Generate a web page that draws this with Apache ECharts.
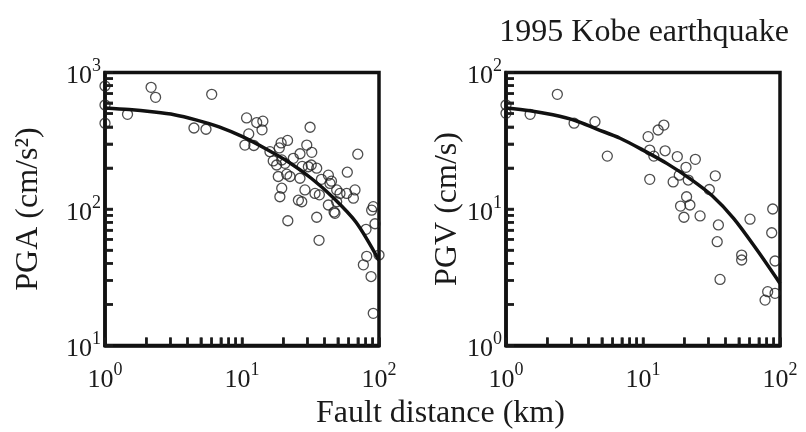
<!DOCTYPE html>
<html><head><meta charset="utf-8">
<script src="https://cdn.jsdelivr.net/npm/echarts@6/dist/echarts.min.js"></script>
<style>html,body{margin:0;padding:0;background:#fff}#c{width:806px;height:432px;background:#fff}</style>
</head><body><div id="c"></div>
<script>
// ---- data ----
const xTickLabels = [1, 10, 100];
const pgaTickLabels = [10, 100, 1000];
const pgvTickLabels = [1, 10, 100];

const pgaDist = [1.0, 1.0, 1.0, 1.46, 2.17, 2.34, 4.46, 5.46, 6.01,
  10.8, 11.2, 10.5, 12.2, 12.8, 14.2, 14.0, 31.4, 70,
  19.3, 21.5, 18.7, 16, 29.7, 32.3, 26.5, 23.7, 16.9, 17.9, 20.6, 19.5,
  30.5, 35.1, 27.5, 32, 58.7, 42.7, 18.4, 22.4, 26.5, 21.2, 38, 45,
  19.5, 28.8, 34.1, 43.9, 49.1, 51.9, 58.1, 66.8, 18.9, 25.8, 27.3, 65, 36.7, 49.1,
  42.7, 47.7, 90.8, 21.6, 35.1, 36.5, 47,
  88.4, 93.5, 80.4, 81.3, 76.9, 87.5, 90.8, 100];
const pgaVal = [796, 578, 425, 494, 779, 658, 392, 384, 692,
  465, 355, 294, 292, 430, 440, 380, 397, 252,
  305, 318, 280, 263, 294, 260, 254, 235, 225, 210, 216, 229,
  204, 199, 205, 210, 186, 177, 173, 173, 168, 180, 165, 160,
  142, 138, 130, 154, 138, 130, 130, 138, 123, 116, 113, 120, 127, 113,
  107, 93, 104, 82, 87, 59, 95,
  98, 78, 71, 45, 39, 32, 17.2, 46];

const pgvDist = [1.0, 1.0, 1.5, 2.37, 3.14, 4.46, 5.49,
  10.9, 12.9, 14.2, 11.2, 12.0, 14.5, 11.2,
  17.8, 20.6, 24.1, 18.4, 16.6, 21.4,
  20.8, 22.0, 18.8, 19.9, 26.1,
  33.7, 30.5, 35.5, 34.8, 36.5, 60.4, 52.5, 52.5,
  88.5, 87, 92, 77.8, 81.3, 92];
const pgvVal = [57.8, 50.2, 49.4, 69.2, 42.5, 43.6, 24.4,
  33.9, 37.9, 41.2, 27.0, 24.4, 26.7, 16.5,
  24.2, 20.2, 23.1, 17.7, 15.8, 16.3,
  12.3, 10.7, 10.5, 8.7, 8.9,
  17.5, 13.9, 7.64, 5.76, 3.05, 8.42, 4.60, 4.23,
  10.0, 6.70, 4.16, 2.15, 2.48, 2.41];

const curveDist = [1, 1.5, 2.2, 3.2, 4.6, 6.8, 10, 15, 22, 32, 46, 68, 100];
const pgaCurve  = [550, 535, 515, 490, 450, 400, 340, 275, 220, 168, 122, 80, 42];
const pgvCurve  = [55, 52.5, 49, 44.5, 38.5, 33, 27, 21.5, 16.7, 12.5, 8.5, 5.0, 2.85];

// ---- helpers ----
const zip = (a, b) => a.map((v, i) => [v, b[i]]);
function decadeTicks(lo, hi) {
  const out = [];
  for (let d = lo; d < hi; d *= 10) for (let k = 1; k <= 9; k++) out.push(d * k);
  out.push(hi);
  return out;
}
const FONT = 'Liberation Serif';
const TXT = '#1a1a1a';
const TICK_LEN = 8;
const labelFmt = v => '{b|10}{s|' + Math.round(Math.log10(v)) + '}';
const richLab = {
  b: { fontFamily: FONT, fontSize: 26, color: TXT, padding: [8, 0, 0, 0] },
  s: { fontFamily: FONT, fontSize: 18, color: TXT, padding: [0, 0, 12, 0] }
};
const axLine = { show: true, lineStyle: { color: '#111', width: 3.5 } };
const axTick = vals => ({ show: true, inside: true, length: TICK_LEN, customValues: vals,
  lineStyle: { color: TXT, width: 2.5 } });
function xAxisCfg(gi) {
  return {
    type: 'log', min: xTickLabels[0], max: xTickLabels[xTickLabels.length - 1], gridIndex: gi,
    axisLine: axLine, axisTick: axTick(decadeTicks(1, 100)),
    axisLabel: { formatter: labelFmt, rich: richLab, margin: 14 },
    splitLine: { show: false }
  };
}
function yAxisCfg(gi, labels, name, gap) {
  const lo = labels[0], hi = labels[labels.length - 1];
  return {
    type: 'log', min: lo, max: hi, gridIndex: gi,
    name: name, nameLocation: 'middle', nameRotate: 90, nameGap: gap,
    nameTextStyle: { fontFamily: FONT, fontSize: 32, color: TXT },
    axisLine: axLine, axisTick: axTick(decadeTicks(lo, hi)),
    axisLabel: { formatter: labelFmt, rich: richLab, margin: 4 },
    splitLine: { show: false }
  };
}
// inward tick marks drawn as thin rect symbols through the axes' own scales
function tickSeries(gi, horizontal, pairs) {
  return {
    type: 'scatter', xAxisIndex: gi, yAxisIndex: gi,
    data: pairs, symbol: 'rect',
    symbolSize: horizontal ? [2.5, TICK_LEN] : [TICK_LEN, 2.5],
    symbolOffset: horizontal ? [0, -TICK_LEN / 2] : [TICK_LEN / 2, 0],
    itemStyle: { color: TXT }
  };
}
const scatterStyle = { color: 'rgba(0,0,0,0)', borderColor: '#222', borderWidth: 1.3 };

const chart = echarts.init(document.getElementById('c'));
try {
  chart.setOption({
    animation: false,
    title: [
      { text: '1995 Kobe earthquake', right: 12, top: 12,
        textStyle: { fontFamily: FONT, fontSize: 32, fontWeight: 'normal', color: TXT } },
      { text: 'Fault distance (km)', left: 311, top: 393,
        textStyle: { fontFamily: FONT, fontSize: 32, fontWeight: 'normal', color: TXT } }
    ],
    grid: [
      { left: 105, top: 72.5, width: 274, height: 273, show: true, borderColor: '#111', borderWidth: 3.5 },
      { left: 506, top: 72.5, width: 274, height: 273, show: true, borderColor: '#111', borderWidth: 3.5 }
    ],
    xAxis: [xAxisCfg(0), xAxisCfg(1)],
    yAxis: [
      yAxisCfg(0, pgaTickLabels, 'PGA (cm/s²)', 60),
      yAxisCfg(1, pgvTickLabels, 'PGV (cm/s)', 23)
    ],
    series: [
      tickSeries(0, true, decadeTicks(1, 100).map(v => [v, 10])),
      tickSeries(0, false, decadeTicks(10, 1000).map(v => [1, v])),
      tickSeries(1, true, decadeTicks(1, 100).map(v => [v, 1])),
      tickSeries(1, false, decadeTicks(1, 100).map(v => [1, v])),
      { type: 'scatter', xAxisIndex: 0, yAxisIndex: 0, data: zip(pgaDist, pgaVal),
        symbol: 'circle', symbolSize: 10, itemStyle: scatterStyle },
      { type: 'line', xAxisIndex: 0, yAxisIndex: 0, data: zip(curveDist, pgaCurve),
        smooth: 0.3, showSymbol: false, symbol: 'none', lineStyle: { color: '#111', width: 3.5 } },
      { type: 'scatter', xAxisIndex: 1, yAxisIndex: 1, data: zip(pgvDist, pgvVal),
        symbol: 'circle', symbolSize: 10, itemStyle: scatterStyle },
      { type: 'line', xAxisIndex: 1, yAxisIndex: 1, data: zip(curveDist, pgvCurve),
        smooth: 0.3, showSymbol: false, symbol: 'none', lineStyle: { color: '#111', width: 3.5 } }
    ]
  });
} catch (e) { console.error(e); }
</script></body></html>
